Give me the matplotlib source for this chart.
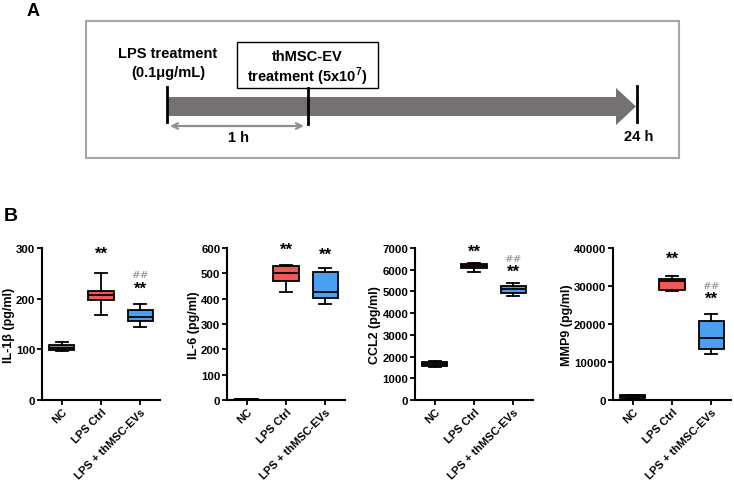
import matplotlib
matplotlib.use("Agg")
import matplotlib.pyplot as plt
from matplotlib.patches import Rectangle, Polygon

plt.rcParams['font.family'] = ['Liberation Sans', 'DejaVu Sans']
plt.rcParams['mathtext.fontset'] = 'custom'
plt.rcParams['mathtext.rm'] = 'Liberation Sans'
plt.rcParams['mathtext.bf'] = 'Liberation Sans:bold'

# datos
groups = ["NC", "LPS Ctrl", "LPS + thMSC-EVs"]

# min, q1, mediana, q3, max por grupo
il1b = [[96, 98, 103, 109, 114], [168, 197, 208, 216, 251], [144, 156, 163, 178, 190]]
il6 = [[1, 2, 3, 4, 5], [428, 471, 501, 528, 534], [379, 401, 428, 505, 522]]
ccl2 = [[1535, 1581, 1673, 1765, 1811], [5910, 6063, 6171, 6263, 6294],
        [4805, 4927, 5096, 5234, 5373]]
mmp9 = [[440, 614, 965, 1230, 1400], [28596, 29035, 31228, 31842, 32544],
        [12193, 13421, 16316, 20702, 22719]]

ylabels = ["IL-1β (pg/ml)", "IL-6 (pg/ml)", "CCL2 (pg/ml)", "MMP9 (pg/ml)"]
ymax = [300, 600, 7000, 40000]
ystep = [100, 100, 1000, 10000]

# marcas de significancia: (grupo, texto, y)
marks = [
    [(1, "**", 290), (2, "##", 247), (2, "**", 221)],
    [(1, "**", 596), (2, "**", 576)],
    [(1, "**", 6862), (2, "##", 6539), (2, "**", 5941)],
    [(1, "**", 37368), (2, "##", 30263), (2, "**", 26842)],
]

colors = ["#808080", "#f25757", "#4a9ff0"]

fig = plt.figure(figsize=(7.34, 4.85), dpi=100)

# ---------- Panel A: esquema ----------
axA = fig.add_axes([0, 0, 1, 1])
axA.set_xlim(0, 734)
axA.set_ylim(485, 0)
axA.axis("off")

narrow = ['Liberation Sans Narrow', 'Liberation Sans', 'DejaVu Sans']
fsA = 10.5

axA.add_patch(Rectangle((86, 22), 593, 137, fill=False, edgecolor="#a6a6a6", lw=1.5))
axA.add_patch(Polygon([(167, 98), (616, 98), (616, 89), (636, 107.5),
                       (616, 126), (616, 117), (167, 117)],
                      closed=True, facecolor="#767171", edgecolor="none"))
axA.plot([167, 167], [88, 123], color="black", lw=2)
axA.plot([308, 308], [89, 125], color="black", lw=2)
axA.plot([637, 637], [87, 123], color="black", lw=2)
axA.add_patch(Rectangle((237, 43), 141, 46, facecolor="white", edgecolor="black", lw=1))
axA.annotate("", xy=(170, 127), xytext=(304, 127),
             arrowprops=dict(arrowstyle="<->", color="#909090", lw=1.6,
                             shrinkA=0, shrinkB=0))

axA.text(168, 54, "LPS treatment", ha="center", va="center", fontsize=fsA,
         fontweight="bold", family=narrow)
axA.text(168, 73, "(0.1μg/mL)", ha="center", va="center", fontsize=fsA,
         fontweight="bold", family=narrow)
axA.text(307, 57, "thMSC-EV", ha="center", va="center", fontsize=fsA,
         fontweight="bold", family=narrow)
axA.text(307, 77, r"treatment (5x10$^{\mathbf{7}}$)", ha="center", va="center",
         fontsize=fsA, fontweight="bold", family=narrow)
axA.text(238, 138, "1 h", ha="center", va="center", fontsize=fsA,
         fontweight="bold", family=narrow)
axA.text(639, 137, "24 h", ha="center", va="center", fontsize=fsA,
         fontweight="bold", family=narrow)

axA.text(33, 11, "A", ha="center", va="center", fontsize=13, fontweight="bold",
         family=narrow)
axA.text(11, 217, "B", ha="center", va="center", fontsize=14, fontweight="bold")

# ---------- Panel B: boxplots ----------
lefts = [42, 227, 415, 613]
datasets = [il1b, il6, ccl2, mmp9]

for i, data in enumerate(datasets):
    ax = fig.add_axes([lefts[i] / 734, 1 - 401 / 485, 118 / 734, 152 / 485])
    stats = []
    for g, vals in zip(groups, data):
        stats.append(dict(label=g, whislo=vals[0], q1=vals[1], med=vals[2],
                          q3=vals[3], whishi=vals[4], fliers=[]))
    bp = ax.bxp(stats, positions=range(3), widths=0.65, patch_artist=True,
                showfliers=False,
                boxprops=dict(edgecolor="black", linewidth=1.3),
                medianprops=dict(color="black", linewidth=1.3),
                whiskerprops=dict(color="black", linewidth=1.3),
                capprops=dict(color="black", linewidth=1.3),
                capwidths=0.3)
    for patch, c in zip(bp["boxes"], colors):
        patch.set_facecolor(c)

    ax.set_xlim(-0.5, 2.5)
    ax.set_ylim(0, ymax[i])
    ax.set_yticks(range(0, ymax[i] + 1, ystep[i]))
    ax.spines["top"].set_visible(False)
    ax.spines["right"].set_visible(False)
    ax.spines["left"].set_linewidth(1.5)
    ax.spines["bottom"].set_linewidth(1.5)
    ax.tick_params(width=1.3, length=3.5, labelsize=8.2, pad=1.2)
    ax.set_xticks(range(3))
    ax.set_xticklabels(groups, rotation=45, ha="right", rotation_mode="anchor",
                       fontweight="bold", fontsize=8)
    for lab in ax.get_yticklabels():
        lab.set_fontweight("bold")
    ax.set_ylabel(ylabels[i], fontsize=9, fontweight="bold", labelpad=1)

    for g, txt, y in marks[i]:
        if txt == "##":
            ax.text(g, y, txt, ha="center", va="center", fontsize=7.5,
                    color="#8c8c8c", family="DejaVu Serif", style="italic")
        else:
            ax.text(g, y, txt, ha="center", va="center", fontsize=12,
                    fontweight="bold")

fig.savefig("out.png", dpi=100)
